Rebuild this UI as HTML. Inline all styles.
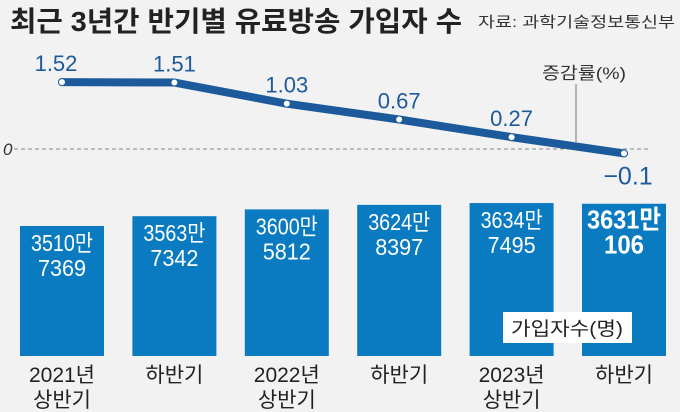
<!DOCTYPE html>
<html><head><meta charset="utf-8"><style>
body{margin:0;background:#f2f2f2;}
svg{display:block;font-family:"Liberation Sans Narrow","Liberation Sans","Noto Sans CJK KR",sans-serif;}
</style></head><body>
<svg id="chart" width="680" height="412" viewBox="0 0 680 412" xmlns="http://www.w3.org/2000/svg">
<rect width="680" height="412" fill="#f2f2f2"/>
<text x="10" y="31" font-size="28" font-weight="bold" fill="#222" textLength="452" lengthAdjust="spacingAndGlyphs" font-family="'Liberation Sans','Noto Sans CJK KR',sans-serif">최근 3년간 반기별 유료방송 가입자 수</text>
<text x="478" y="27" font-size="15" fill="#333" textLength="197" lengthAdjust="spacingAndGlyphs" font-family="'Liberation Sans','Noto Sans CJK KR',sans-serif">자료: 과학기술정보통신부</text>
<line x1="14" y1="149" x2="650" y2="149" stroke="#888" stroke-width="1" stroke-dasharray="4,3"/>
<text x="3" y="155" font-size="17" font-style="italic" fill="#333">0</text>
<line x1="576" y1="84" x2="576" y2="142" stroke="#777" stroke-width="1"/>
<text x="542" y="79" font-size="17" fill="#333" textLength="84" lengthAdjust="spacingAndGlyphs" font-family="'Liberation Sans','Noto Sans CJK KR',sans-serif">증감률(%)</text>
<g id="bars"></g>
<g id="line"></g>
<g>
<rect x="503" y="312" width="129" height="31" fill="#fff"/>
<text x="567" y="335" font-size="19" fill="#222" text-anchor="middle" textLength="112" lengthAdjust="spacingAndGlyphs" font-family="'Liberation Sans','Noto Sans CJK KR',sans-serif">가입자수(명)</text>
</g>
</svg>
<script>
const categories1 = ['2021년','하반기','2022년','하반기','2023년','하반기'];
const categories2 = ['상반기','','상반기','','상반기',''];
const subscribers = [35107369, 35637342, 36005812, 36248397, 36347495, 36310106];
const subLine1 = ['3510만','3563만','3600만','3624만','3634만','3631만'];
const subLine2 = ['7369','7342','5812','8397','7495','106'];
const rates = [1.52, 1.51, 1.03, 0.67, 0.27, -0.1];
const rateLabels = ['1.52','1.51','1.03','0.67','0.27','−0.1'];

const NS='http://www.w3.org/2000/svg';
function mk(tag, attrs, parent){const e=document.createElementNS(NS,tag);for(const k in attrs)e.setAttribute(k,attrs[k]);parent.appendChild(e);return e;}
const xCenter = i => 62 + i*112.4;
const barW = 84;
const yBar = v => 226 - (v/10000 - 3510.7369)*0.185;
const barBase = 356;
const yRate = v => 149 - v*44;

const gb=document.getElementById('bars');
subscribers.forEach((v,i)=>{
  const y=yBar(v);
  const r=mk('rect',{x:xCenter(i)-barW/2,y:y,width:barW,height:barBase-y,fill:'#0a7bc0'},gb);
  
  
  const last=i===5;
  const t1=mk('text',{x:xCenter(i),y:y+25,'font-size':last?26:23,'font-weight':last?'bold':'normal',fill:'#fff','text-anchor':'middle',textLength:last?74:62,lengthAdjust:'spacingAndGlyphs'},gb);
  t1.textContent=subLine1[i];
  
  
  const t2=mk('text',{x:xCenter(i),y:y+50,'font-size':last?26:23,'font-weight':last?'bold':'normal',fill:'#fff','text-anchor':'middle',textLength:last?40:48,lengthAdjust:'spacingAndGlyphs'},gb);
  t2.textContent=subLine2[i];
  
  
  const c1=mk('text',{x:xCenter(i),y:382,'font-size':21,fill:'#222','text-anchor':'middle'},gb);
  c1.textContent=categories1[i];
  
  
  if(categories2[i]){
    const c2=mk('text',{x:xCenter(i),y:407,'font-size':21,fill:'#222','text-anchor':'middle'},gb);
    c2.textContent=categories2[i];
    
    
  }
});

const gl=document.getElementById('line');
const pts=rates.map((v,i)=>xCenter(i)+','+yRate(v)).join(' ');
const pl=mk('polyline',{points:pts,fill:'none',stroke:'#1d5a9c','stroke-width':8,'stroke-linejoin':'round','stroke-linecap':'round'},gl);


rates.forEach((v,i)=>{
  const c=mk('circle',{cx:xCenter(i),cy:yRate(v),r:3.5,fill:'#fff',stroke:'#1d5a9c','stroke-width':1},gl);
  
  
  const neg=v<0;
  const t=mk('text',{x:xCenter(i)-(i===0?6:0)+(neg?4:0),y:neg?yRate(v)+31:yRate(v)-11,'font-size':neg?25:22,fill:'#1d5a9c','text-anchor':'middle'},gl);
  t.textContent=rateLabels[i];
  
  
});
</script>
</body></html>
